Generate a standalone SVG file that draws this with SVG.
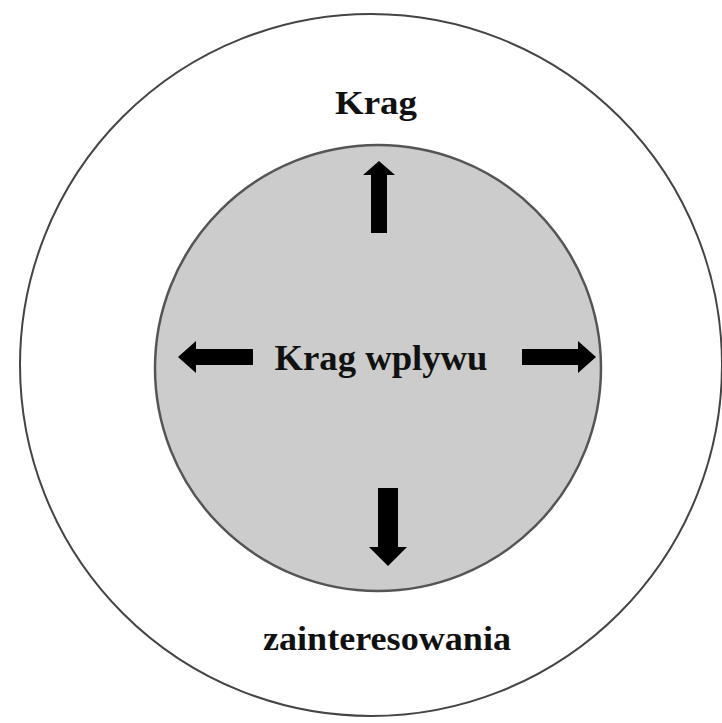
<svg xmlns="http://www.w3.org/2000/svg" width="722" height="723" viewBox="0 0 722 723">
<style>
.ring{fill:#ffffff;stroke:#444444;stroke-width:2}
.inner{fill:#cccccc;stroke:#555555;stroke-width:2.5}
.lbl{font-family:"Liberation Serif","Times New Roman",serif;font-weight:bold;fill:#111111;text-anchor:middle}
.arr{fill:#000000}
</style>
<rect width="722" height="723" fill="#ffffff"/>
<g id="outer">
<circle class="ring" cx="371" cy="365" r="351"/>
<text class="lbl" x="376" y="114" font-size="34" textLength="82" lengthAdjust="spacingAndGlyphs">Krag</text>
<text class="lbl" x="387" y="650" font-size="34" textLength="248" lengthAdjust="spacingAndGlyphs">zainteresowania</text>
</g>
<g id="inner">
<circle class="inner" cx="378" cy="368" r="223"/>
<text class="lbl" x="381" y="370" font-size="36" textLength="213" lengthAdjust="spacingAndGlyphs">Krag wplywu</text>
</g>
<g id="connectors">
<polygon class="arr" points="371,233 371,175 363,175 379,161 395,175 387,175 387,233"/>
<polygon class="arr" points="378,488 398,488 398,547 407,547 388,566 369,547 378,547"/>
<polygon class="arr" points="253,349 196,349 196,341 178,357 196,373 196,365 253,365"/>
<polygon class="arr" points="522,349 578,349 578,341 596,357 578,373 578,365 522,365"/>
</g>
</svg>
